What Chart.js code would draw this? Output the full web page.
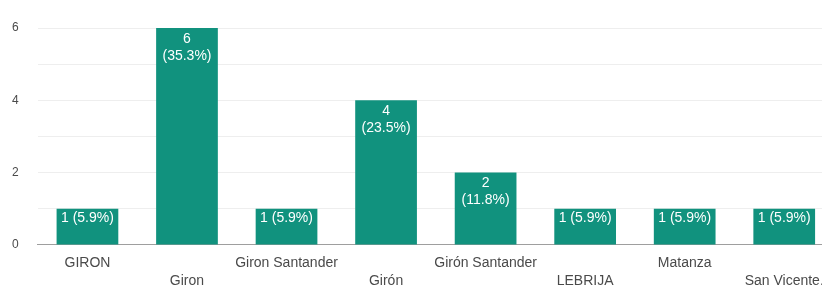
<!DOCTYPE html>
<html><head><meta charset="utf-8">
<script src="https://cdn.jsdelivr.net/npm/chart.js@4/dist/chart.umd.min.js"></script>
<style>
html,body{margin:0;padding:0;overflow:hidden;background:#fff;}
#wrap{width:834px;height:291px;position:relative;}
</style></head>
<body><div id="wrap"><canvas id="c"></canvas></div>
<script>
const categories = ['GIRON','Giron','Giron Santander','Girón','Girón Santander','LEBRIJA','Matanza','San Vicente.'];
const counts = [1,6,1,4,2,1,1,1];
const percents = ['5.9%','35.3%','5.9%','23.5%','11.8%','5.9%','5.9%','5.9%'];
const yTicks = [0,2,4,6];
const FONT = '"Liberation Sans", Arial, sans-serif';

const barLabels = {
  id:'barLabels',
  afterDatasetsDraw(chart){
    const ctx = chart.ctx;
    const meta = chart.getDatasetMeta(0);
    ctx.save();
    ctx.fillStyle = '#ffffff';
    ctx.font = '14px ' + FONT;
    ctx.textAlign = 'center';
    ctx.textBaseline = 'middle';
    meta.data.forEach((bar,i)=>{
      const v = counts[i];
      if (v >= 2) {
        ctx.fillText(String(v), bar.x, bar.y + 11);
        ctx.fillText('(' + percents[i] + ')', bar.x, bar.y + 28);
      } else {
        ctx.fillText(v + ' (' + percents[i] + ')', bar.x, bar.y + 9);
      }
    });
    ctx.restore();
  }
};

new Chart(document.getElementById('c'), {
  type:'bar',
  data:{labels:categories, datasets:[{data:counts, backgroundColor:'#11927e', barPercentage:0.62, categoryPercentage:1}]},
  options:{
    responsive:true, maintainAspectRatio:false, animation:false,
    layout:{padding:{top:28,left:-7,right:0,bottom:0}},
    plugins:{legend:{display:false}, tooltip:{enabled:false}},
    scales:{
      x:{
        grid:{display:false},
        border:{display:true,color:'#9e9e9e',width:1},
        ticks:{autoSkip:false,maxRotation:0,minRotation:0,padding:1,color:'#4a4a4a',
          font:{size:14,family:FONT,lineHeight:1.29},
          callback:(v,i)=> i%2===1 ? ['', categories[i]] : [categories[i], '']}
      },
      y:{
        min:0,max:6,
        afterBuildTicks:(ax)=>{ax.ticks=[0,1,2,3,4,5,6].map(v=>({value:v}));},
        grid:{color:'#eeeeee',drawTicks:false},
        border:{display:false},
        ticks:{padding:19,color:'#4a4a4a',font:{size:12,family:FONT},
          callback:(v)=> yTicks.includes(v) ? String(v) : ''}
      }
    }
  },
  plugins:[barLabels]
});
</script></body></html>
